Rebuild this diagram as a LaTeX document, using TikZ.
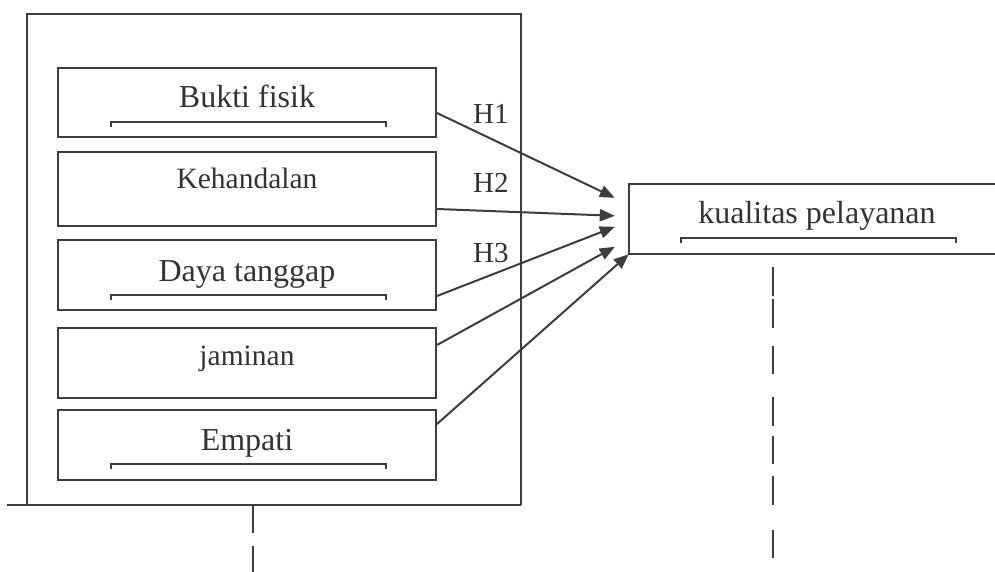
\documentclass[tikz,border=0pt]{standalone}
\usepackage{fontspec}
\setmainfont{Liberation Serif}
\usetikzlibrary{arrows.meta}
\definecolor{ln}{HTML}{3D3D3D}
\definecolor{tx}{HTML}{333333}
\tikzset{
  box/.style={draw=ln, line width=2pt, rectangle, minimum width=378pt, inner sep=0pt},
  lbl/.style={text=tx, anchor=base, inner sep=0pt, font=\fontsize{32}{36}\selectfont},
  lblsm/.style={text=tx, anchor=base, inner sep=0pt, font=\fontsize{29.5}{34}\selectfont},
  hlbl/.style={text=tx, anchor=base west, inner sep=0pt, font=\fontsize{29}{34}\selectfont},
  conn/.style={draw=ln, line width=2pt, -{Triangle[length=15pt,width=12pt]}},
  brk/.style={draw=ln, line width=1.6pt},
  frame/.style={draw=ln, line width=2pt},
  dsh/.style={draw=ln, line width=1.6pt}
}
\begin{document}
\begin{tikzpicture}[x=1pt,y=-1pt]
\useasboundingbox (0,0) rectangle (995,572);
\clip (0,0) rectangle (995,572);
% outer frame
\draw[frame] (27,505) -- (27,14) -- (521,14) -- (521,505);
\draw[frame] (7,505) -- (521,505);
% inner boxes
\node[box, minimum height=69pt] (b1) at (247,102.5) {};
\node[box, minimum height=74pt] (b2) at (247,189) {};
\node[box, minimum height=70pt] (b3) at (247,275) {};
\node[box, minimum height=70pt] (b4) at (247,363) {};
\node[box, minimum height=70pt] (b5) at (247,445) {};
% labels
\node[lbl] (t1) at (247,108) {Bukti fisik};
\node[lblsm] (t2) at (247,189) {Kehandalan};
\node[lbl] (t3) at (247,281) {Daya tanggap};
\node[lblsm] (t4) at (247,365) {jaminan};
\node[lbl] (t5) at (247,450) {Empati};
% brackets
\draw[brk] (111,127) -- (111,122) -- (386,122) -- (386,127);
\draw[brk] (111,300) -- (111,295) -- (386,295) -- (386,300);
\draw[brk] (111,469) -- (111,464) -- (386,464) -- (386,469);
% target box (open to the right)
\node[minimum width=380pt, minimum height=70pt, inner sep=0pt] (k) at (819,219) {};
\draw[frame] (k.north east) -- (k.north west) -- (k.south west) -- (k.south east);
\node[lbl] (kt) at (817,223) {kualitas pelayanan};
\draw[brk] (681,243) -- (681,238) -- (956,238) -- (956,243);
% hypothesis labels
\node[hlbl] (h1) at (473,124) {H1};
\node[hlbl] (h2) at (473,193) {H2};
\node[hlbl] (h3) at (473,262) {H3};
% arrows
\draw[conn] ([yshift=-10.5pt]b1.east) -- ([xshift=-14pt,yshift=-14pt]k.north west);
\draw[conn] ([yshift=-20pt]b2.east) -- ([xshift=-14pt,yshift=-32pt]k.north west);
\draw[conn] ([yshift=-21pt]b3.east) -- ([xshift=-14pt,yshift=-43pt]k.north west);
\draw[conn] ([yshift=18pt]b4.east) -- ([xshift=-14pt,yshift=-63pt]k.north west);
\draw[conn] ([yshift=21pt]b5.east) -- (k.south west);
% dashed lines
\foreach \a/\b in {505/533,546/572}
  \draw[dsh] (253,\a) -- (253,\b);
\foreach \a/\b in {267/296,299/328,346/374,397/426,436/464,476/505,530/558}
  \draw[dsh] (773,\a) -- (773,\b);
\end{tikzpicture}
\end{document}
